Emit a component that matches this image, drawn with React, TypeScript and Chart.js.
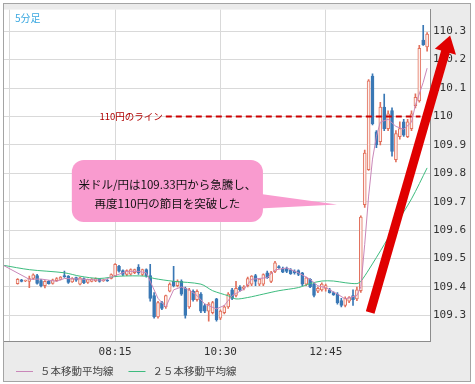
import React, { useEffect, useRef } from 'react';
import { Chart, registerables } from 'chart.js';

Chart.register(...registerables);

// ---- data: 5-minute USD/JPY bars, bar number counted from 06:00 ----
const FIRST_BAR = 2;
const openP = [
  109.412, 109.425, 109.421, 109.420, 109.430, 109.440, 109.423, 109.405, 109.420, 109.413,
  109.422, 109.427, 109.440, 109.438, 109.418, 109.433, 109.410, 109.430, 109.416, 109.420,
  109.421, 109.428, 109.422, 109.424, 109.430, 109.440, 109.473, 109.458, 109.444, 109.445,
  109.450, 109.470, 109.444, 109.461, 109.440, 109.370, 109.295, 109.345, 109.330, 109.385,
  109.420, 109.405, 109.420, 109.395, 109.330, 109.385, 109.355, 109.375, 109.335, 109.315,
  109.310, 109.358, 109.290, 109.310, 109.330, 109.390, 109.370, 109.400, 109.395, 109.405,
  109.410, 109.440, 109.410, 109.410, 109.450, 109.420, 109.455, 109.470, 109.465, 109.465,
  109.460, 109.455, 109.458, 109.450, 109.410, 109.427, 109.410, 109.385, 109.390, 109.395,
  109.390, 109.380, 109.375, 109.352, 109.335, 109.350, 109.370, 109.358, 109.387, 109.690,
  109.813, 110.142, 109.946, 109.911, 110.033, 109.957, 110.021, 109.848, 109.929, 109.981,
  109.929, 109.957, 110.038, 110.055, 110.269, 110.245,
];
const highP = [
  109.430, 109.427, 109.424, 109.438, 109.446, 109.445, 109.427, 109.423, 109.423, 109.428,
  109.433, 109.437, 109.456, 109.440, 109.433, 109.435, 109.434, 109.432, 109.428, 109.430,
  109.432, 109.430, 109.426, 109.426, 109.446, 109.482, 109.476, 109.460, 109.460, 109.464,
  109.463, 109.479, 109.463, 109.464, 109.480, 109.380, 109.350, 109.350, 109.372, 109.415,
  109.473, 109.425, 109.425, 109.400, 109.395, 109.390, 109.390, 109.380, 109.340, 109.345,
  109.350, 109.360, 109.320, 109.335, 109.380, 109.395, 109.420, 109.405, 109.405, 109.435,
  109.440, 109.445, 109.430, 109.446, 109.456, 109.455, 109.490, 109.475, 109.470, 109.470,
  109.465, 109.460, 109.460, 109.452, 109.435, 109.430, 109.415, 109.400, 109.415, 109.410,
  109.395, 109.383, 109.380, 109.360, 109.365, 109.366, 109.390, 109.400, 109.650, 109.882,
  110.130, 110.150, 109.950, 110.050, 110.079, 110.020, 110.030, 109.950, 109.981, 109.990,
  109.990, 110.020, 110.080, 110.250, 110.321, 110.295,
];
const lowP = [
  109.410, 109.418, 109.419, 109.398, 109.427, 109.410, 109.400, 109.397, 109.410, 109.410,
  109.420, 109.425, 109.434, 109.413, 109.416, 109.420, 109.407, 109.412, 109.413, 109.418,
  109.419, 109.417, 109.420, 109.420, 109.428, 109.437, 109.452, 109.440, 109.440, 109.442,
  109.447, 109.444, 109.440, 109.435, 109.350, 109.290, 109.290, 109.320, 109.325, 109.383,
  109.400, 109.400, 109.370, 109.290, 109.325, 109.350, 109.350, 109.310, 109.310, 109.280,
  109.305, 109.280, 109.285, 109.305, 109.325, 109.355, 109.365, 109.385, 109.390, 109.400,
  109.405, 109.405, 109.405, 109.405, 109.430, 109.415, 109.450, 109.465, 109.450, 109.450,
  109.444, 109.445, 109.440, 109.405, 109.405, 109.398, 109.365, 109.380, 109.385, 109.385,
  109.378, 109.370, 109.340, 109.330, 109.330, 109.345, 109.335, 109.352, 109.381, 109.680,
  109.810, 109.970, 109.890, 109.900, 109.950, 109.950, 109.860, 109.840, 109.920, 109.930,
  109.925, 109.950, 110.030, 110.050, 110.250, 110.230,
];
const closeP = [
  109.427, 109.420, 109.422, 109.430, 109.443, 109.413, 109.405, 109.420, 109.412, 109.425,
  109.430, 109.435, 109.436, 109.416, 109.430, 109.424, 109.432, 109.415, 109.426, 109.428,
  109.430, 109.420, 109.424, 109.421, 109.444, 109.480, 109.456, 109.444, 109.458, 109.461,
  109.461, 109.450, 109.461, 109.440, 109.360, 109.295, 109.345, 109.325, 109.370, 109.410,
  109.405, 109.420, 109.375, 109.300, 109.390, 109.355, 109.385, 109.315, 109.315, 109.340,
  109.345, 109.285, 109.315, 109.330, 109.375, 109.360, 109.395, 109.390, 109.400, 109.430,
  109.438, 109.420, 109.428, 109.444, 109.433, 109.450, 109.485, 109.468, 109.452, 109.455,
  109.447, 109.450, 109.444, 109.410, 109.432, 109.400, 109.370, 109.395, 109.410, 109.405,
  109.380, 109.372, 109.345, 109.335, 109.360, 109.363, 109.355, 109.390, 109.646, 109.871,
  110.125, 109.975, 109.900, 110.033, 109.957, 110.009, 109.877, 109.940, 109.957, 109.934,
  109.981, 110.009, 110.067, 110.240, 110.252, 110.290,
];

// moving averages (bar number, value)
const ma5Idx = [-1.5, 5, 8, 12, 14, 18, 22, 24, 27, 30, 33, 35, 38, 40, 42, 44, 46, 48, 50, 53, 55, 57, 60, 62, 66, 68, 71, 74, 77, 79, 81, 84, 86, 89, 90, 91, 92, 93, 94, 95, 97, 99, 101, 103, 104, 106, 107];
const ma5Val = [109.475, 109.427, 109.428, 109.42, 109.43, 109.428, 109.425, 109.424, 109.44, 109.455, 109.455, 109.45, 109.36, 109.33, 109.39, 109.40, 109.39, 109.37, 109.34, 109.323, 109.335, 109.37, 109.392, 109.427, 109.433, 109.46, 109.467, 109.45, 109.427, 109.404, 109.398, 109.375, 109.358, 109.37, 109.40, 109.55, 109.72, 109.85, 109.93, 109.98, 109.99, 109.965, 109.955, 109.98, 110.04, 110.12, 110.17];
const ma25Idx = [-1.5, 5, 14, 18, 23, 28, 35, 37, 42, 49, 52, 56, 58, 61, 65, 69, 74, 77, 80, 83, 86, 89, 90, 92, 96, 99, 103, 107];
const ma25Val = [109.476, 109.461, 109.45, 109.438, 109.43, 109.438, 109.438, 109.43, 109.42, 109.41, 109.387, 109.369, 109.358, 109.363, 109.375, 109.387, 109.398, 109.412, 109.421, 109.421, 109.415, 109.412, 109.42, 109.46, 109.549, 109.62, 109.71, 109.819];

const seriesLabels = ['５本移動平均線', '２５本移動平均線'];
const xTickIdx = [0, 27, 54, 81];
const xTickLabels = ['06:00', '08:15', '10:30', '12:45'];
const yTicks = [109.3, 109.4, 109.5, 109.6, 109.7, 109.8, 109.9, 110.0, 110.1, 110.2, 110.3];

const X_MIN = -1.49;
const X_MAX = 107.74;
const Y_MIN = 109.21;
const Y_MAX = 110.376;

// annotations (in data units)
const TIMEFRAME_LABEL = '5分足';
const LEVEL_VALUE = 110;
const LEVEL_FROM = 40;
const LEVEL_TO = 105.3;
const LEVEL_LABEL = '110円のライン';
const CALLOUT_LINES = ['米ドル/円は109.33円から急騰し、', '再度110円の節目を突破した'];
const CALLOUT_BOX = [15.9, 64.9, 109.847, 109.629]; // x0, x1, yTop, yBottom
const CALLOUT_TAIL = [109.728, 109.676, 83.9, 109.69]; // base top, base bottom, tip x, tip y
const ARROW_FROM = [92.4, 109.31];
const ARROW_TO = [112.9, 110.285];

const UP = '#e2705c';
const UP_FILL = '#fdf1ee';
const DOWN = '#3a78b5';
const MA5_COLOR = '#c987b9';
const MA25_COLOR = '#3dbb7e';
const MONO = '"DejaVu Sans Mono", monospace';
const JP = '"Noto Sans CJK JP", sans-serif';

const framePlugin = {
  id: 'frame',
  beforeDraw(chart: any) {
    const { ctx, chartArea: a, width, height } = chart;
    ctx.save();
    ctx.fillStyle = '#ffffff';
    ctx.fillRect(0, 0, width, height);
    ctx.fillStyle = '#ebebeb';
    ctx.fillRect(3, 3, 468, 379);
    ctx.strokeStyle = '#a4a4a4';
    ctx.lineWidth = 1;
    ctx.strokeRect(3.5, 3.5, 467, 378);
    ctx.fillStyle = '#ffffff';
    ctx.fillRect(a.left, a.top, a.right - a.left, a.bottom - a.top);
    ctx.restore();
  },
};

const overlayPlugin = {
  id: 'overlay',
  afterDatasetsDraw(chart: any) {
    const { ctx, chartArea: a } = chart;
    const x = chart.scales.x;
    const y = chart.scales.y;
    ctx.save();

    // timeframe label
    ctx.font = `10px ${JP}`;
    ctx.fillStyle = '#3aa8e0';
    ctx.textAlign = 'left';
    ctx.textBaseline = 'middle';
    ctx.fillText(TIMEFRAME_LABEL, a.left + 11, a.top + 9);

    // 110 yen line
    const ly = y.getPixelForValue(LEVEL_VALUE);
    const lx0 = x.getPixelForValue(LEVEL_FROM);
    const lx1 = x.getPixelForValue(LEVEL_TO);
    ctx.strokeStyle = '#cc0000';
    ctx.lineWidth = 2;
    ctx.setLineDash([6, 4]);
    ctx.beginPath();
    ctx.moveTo(lx0, ly);
    ctx.lineTo(lx1, ly);
    ctx.stroke();
    ctx.setLineDash([]);
    ctx.font = `9.5px ${JP}`;
    ctx.fillStyle = '#b00000';
    ctx.textAlign = 'right';
    ctx.fillText(LEVEL_LABEL, lx0 - 3, ly);

    // callout
    const bx0 = x.getPixelForValue(CALLOUT_BOX[0]);
    const bx1 = x.getPixelForValue(CALLOUT_BOX[1]);
    const by0 = y.getPixelForValue(CALLOUT_BOX[2]);
    const by1 = y.getPixelForValue(CALLOUT_BOX[3]);
    const r = 12;
    ctx.fillStyle = '#f99bcf';
    ctx.beginPath();
    ctx.moveTo(bx0 + r, by0);
    ctx.arcTo(bx1, by0, bx1, by1, r);
    ctx.arcTo(bx1, by1, bx0, by1, r);
    ctx.arcTo(bx0, by1, bx0, by0, r);
    ctx.arcTo(bx0, by0, bx1, by0, r);
    ctx.closePath();
    ctx.fill();
    ctx.beginPath();
    ctx.moveTo(bx1 - 4, y.getPixelForValue(CALLOUT_TAIL[0]));
    ctx.lineTo(x.getPixelForValue(CALLOUT_TAIL[2]), y.getPixelForValue(CALLOUT_TAIL[3]));
    ctx.lineTo(bx1 - 4, y.getPixelForValue(CALLOUT_TAIL[1]));
    ctx.closePath();
    ctx.fill();
    ctx.fillStyle = '#111111';
    ctx.font = `11.5px ${JP}`;
    ctx.textAlign = 'center';
    ctx.textBaseline = 'middle';
    const cx = (bx0 + bx1) / 2;
    CALLOUT_LINES.forEach((t, k) => ctx.fillText(t, cx, by0 + 25 + k * 19));

    ctx.restore();
  },
  afterDraw(chart: any) {
    const { ctx } = chart;
    const x = chart.scales.x;
    const y = chart.scales.y;
    ctx.save();

    // legend
    const lines = chart.data.datasets.filter((d: any) => d.type === 'line');
    let lx = 16;
    const legY = 371;
    ctx.font = `10.5px ${JP}`;
    ctx.textAlign = 'left';
    ctx.textBaseline = 'middle';
    lines.forEach((d: any) => {
      ctx.strokeStyle = d.borderColor;
      ctx.lineWidth = 1;
      ctx.beginPath();
      ctx.moveTo(lx, legY + 0.5);
      ctx.lineTo(lx + 17, legY + 0.5);
      ctx.stroke();
      lx += 24;
      ctx.fillStyle = '#444444';
      ctx.fillText(d.label, lx, legY);
      lx += ctx.measureText(d.label).width + 15;
    });

    // red arrow
    const ax0 = x.getPixelForValue(ARROW_FROM[0]);
    const ay0 = y.getPixelForValue(ARROW_FROM[1]);
    const ax1 = x.getPixelForValue(ARROW_TO[0]);
    const ay1 = y.getPixelForValue(ARROW_TO[1]);
    const len = Math.hypot(ax1 - ax0, ay1 - ay0);
    const ux = (ax1 - ax0) / len;
    const uy = (ay1 - ay0) / len;
    const px = -uy;
    const py = ux;
    const headLen = 17;
    const headHalf = 11;
    const hx = ax1 - ux * headLen;
    const hy = ay1 - uy * headLen;
    ctx.strokeStyle = '#e00000';
    ctx.fillStyle = '#e00000';
    ctx.lineWidth = 9;
    ctx.lineCap = 'butt';
    ctx.beginPath();
    ctx.moveTo(ax0, ay0);
    ctx.lineTo(hx + ux * 2, hy + uy * 2);
    ctx.stroke();
    ctx.beginPath();
    ctx.moveTo(ax1, ay1);
    ctx.lineTo(hx + px * headHalf, hy + py * headHalf);
    ctx.lineTo(hx - px * headHalf, hy - py * headHalf);
    ctx.closePath();
    ctx.fill();

    ctx.restore();
  },
};

export default function App() {
  const ref = useRef<HTMLCanvasElement>(null);

  useEffect(() => {
    document.body.style.margin = '0';
    const canvas = ref.current;
    if (!canvas) return;

    const bars = openP.map((o, k) => ({ i: FIRST_BAR + k, o, h: highP[k], l: lowP[k], c: closeP[k] }));
    const wickData = bars.map((b) => ({ x: b.i, y: [b.l, b.h], up: b.c >= b.o }));
    const bodyData = bars.map((b) => ({ x: b.i, y: [b.o, b.c], up: b.c >= b.o }));

    const chart = new Chart(canvas, {
      type: 'bar',
      data: {
        datasets: [
          {
            type: 'line',
            label: seriesLabels[0],
            data: ma5Idx.map((v, k) => ({ x: v, y: ma5Val[k] })),
            borderColor: MA5_COLOR,
            borderWidth: 1,
            pointRadius: 0,
            tension: 0,
            order: 0,
          },
          {
            type: 'line',
            label: seriesLabels[1],
            data: ma25Idx.map((v, k) => ({ x: v, y: ma25Val[k] })),
            borderColor: MA25_COLOR,
            borderWidth: 1,
            pointRadius: 0,
            tension: 0.3,
            order: 0,
          },
          {
            type: 'bar',
            label: 'body',
            data: bodyData as any,
            grouped: false,
            barThickness: 3,
            minBarLength: 1,
            borderWidth: 1,
            borderSkipped: false,
            backgroundColor: (c: any) => (c.raw && c.raw.up ? UP_FILL : DOWN),
            borderColor: (c: any) => (c.raw && c.raw.up ? UP : DOWN),
            order: 1,
          },
          {
            type: 'bar',
            label: 'wick',
            data: wickData as any,
            grouped: false,
            barThickness: 1,
            borderWidth: 0,
            backgroundColor: (c: any) => (c.raw && c.raw.up ? UP : DOWN),
            order: 2,
          },
        ] as any,
      },
      options: {
        responsive: false,
        animation: false,
        devicePixelRatio: 1,
        events: [],
        layout: { padding: { left: 4, top: 4, right: 0, bottom: 0 } },
        plugins: {
          legend: { display: false },
          tooltip: { enabled: false },
        },
        scales: {
          x: {
            type: 'linear',
            min: X_MIN,
            max: X_MAX,
            offset: false,
            grid: { color: '#d9d9d9', drawTicks: false, offset: false },
            border: { display: true, color: '#8c8c8c' },
            ticks: {
              padding: 5,
              autoSkip: false,
              maxRotation: 0,
              color: '#333333',
              font: { family: MONO, size: 11 },
              callback: (_v: any, index: number) => (index === 0 ? '' : xTickLabels[index]),
            },
            afterBuildTicks: (s: any) => {
              s.ticks = xTickIdx.map((v) => ({ value: v }));
            },
            afterFit: (s: any) => {
              s.height = 43;
            },
          },
          y: {
            position: 'right',
            min: Y_MIN,
            max: Y_MAX,
            beginAtZero: false,
            grid: { color: '#d9d9d9', drawTicks: false },
            border: { display: true, color: '#8c8c8c' },
            ticks: {
              padding: 3,
              color: '#333333',
              font: { family: MONO, size: 11 },
              callback: (v: any) => String(+Number(v).toFixed(1)),
            },
            afterBuildTicks: (s: any) => {
              s.ticks = yTicks.map((v) => ({ value: v }));
            },
            afterFit: (s: any) => {
              s.width = 45;
            },
          },
        },
      } as any,
      plugins: [framePlugin, overlayPlugin],
    });

    return () => chart.destroy();
  }, []);

  return <canvas ref={ref} width={475} height={384} style={{ display: 'block' }} />;
}
